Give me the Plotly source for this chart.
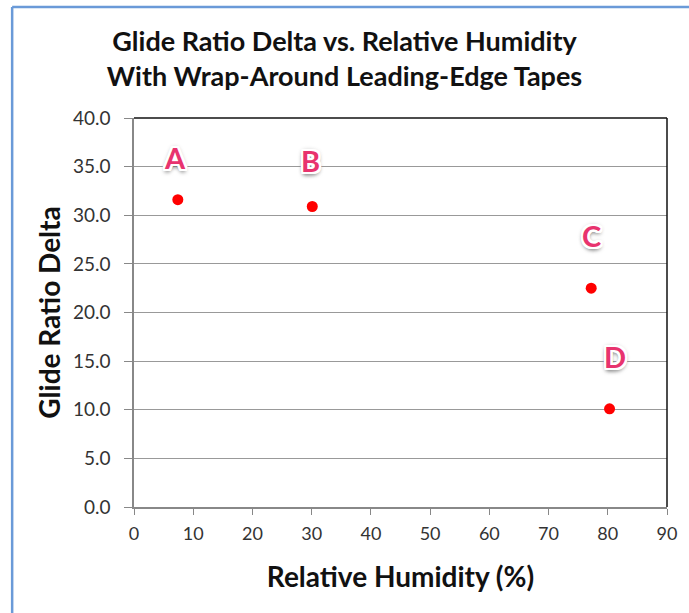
import plotly.graph_objects as go

humidity = [7.4, 30.1, 77.2, 80.3]
glide_delta = [31.6, 30.9, 22.5, 10.1]
point_labels = ["A", "B", "C", "D"]
label_offsets_y = [4.3, 4.7, 5.4, 5.4]
label_offsets_x = [-0.4, -0.3, 0.1, 0.9]

x_ticks = list(range(0, 91, 10))
y_ticks = [i * 5.0 for i in range(9)]

FONT = "Lato"

fig = go.Figure()
fig.add_trace(go.Scatter(
    x=humidity, y=glide_delta, mode="markers",
    marker=dict(color="#ff0000", size=11, line=dict(width=0)),
    showlegend=False, hoverinfo="skip",
))

outline = ", ".join(f"{dx}px {dy}px 0 #fff" for dx in (-2, -1, 0, 1, 2) for dy in (-2, -1, 0, 1, 2) if (dx, dy) != (0, 0))
for xv, yv, lab, dy, dx in zip(humidity, glide_delta, point_labels, label_offsets_y, label_offsets_x):
    fig.add_annotation(
        x=xv + dx, y=yv + dy, text="<b>" + lab + "</b>", showarrow=False,
        font=dict(family=FONT, size=29, color="#e8336e",
                  shadow=outline + ", 0px 3px 4px #666, 0px 0px 5px #999"),
    )

# outer blue frame
fig.add_shape(type="line", xref="paper", yref="paper",
              x0=-0.2286, x1=1.05, y0=1.2853, y1=1.2853,
              line=dict(color="#6a9ad8", width=2.5))
fig.add_shape(type="line", xref="paper", yref="paper",
              x0=-0.2286, x1=-0.2286, y0=1.2853, y1=-0.3,
              line=dict(color="#6a9ad8", width=2.5))

fig.update_layout(
    width=689, height=613,
    margin=dict(l=134, r=17, t=118, b=106),
    paper_bgcolor="white", plot_bgcolor="white",
    title=dict(
        text="<b>Glide Ratio Delta vs. Relative Humidity<br>With Wrap-Around Leading-Edge Tapes</b>",
        x=0.5, xanchor="center", xref="container", y=0.9166, yanchor="middle", yref="container",
        font=dict(family=FONT, size=27, color="#111"),
    ),
    xaxis=dict(
        range=[0, 90], tickvals=x_ticks, ticktext=[str(v) for v in x_ticks],
        showgrid=False, zeroline=False,
        showline=True, linecolor="#888", linewidth=1.5, mirror=False,
        ticks="outside", ticklen=6, tickcolor="#888", ticklabelstandoff=4,
        tickfont=dict(family=FONT, size=18, color="#333"),
        title=dict(text="<b>Relative Humidity (%)</b>", standoff=24,
                   font=dict(family=FONT, size=28, color="#111")),
    ),
    yaxis=dict(
        range=[0, 40], tickvals=y_ticks, ticktext=[f"{v:.1f}" for v in y_ticks],
        showgrid=True, gridcolor="#999", gridwidth=1, zeroline=False,
        showline=True, linecolor="#888", linewidth=1.5,
        ticks="outside", ticklen=8, tickcolor="#888", ticklabelstandoff=10,
        tickfont=dict(family=FONT, size=19, color="#333"),
        title=dict(text="<b>Glide Ratio Delta</b>", standoff=4,
                   font=dict(family=FONT, size=28, color="#111")),
    ),
)

# right and top black border of plot area
fig.add_shape(type="line", xref="paper", yref="paper", x0=1, x1=1, y0=0, y1=1,
              line=dict(color="#111", width=1.5))
fig.add_shape(type="line", xref="paper", yref="paper", x0=0, x1=1, y0=1, y1=1,
              line=dict(color="#111", width=1.5))

fig.write_html("out.html")
